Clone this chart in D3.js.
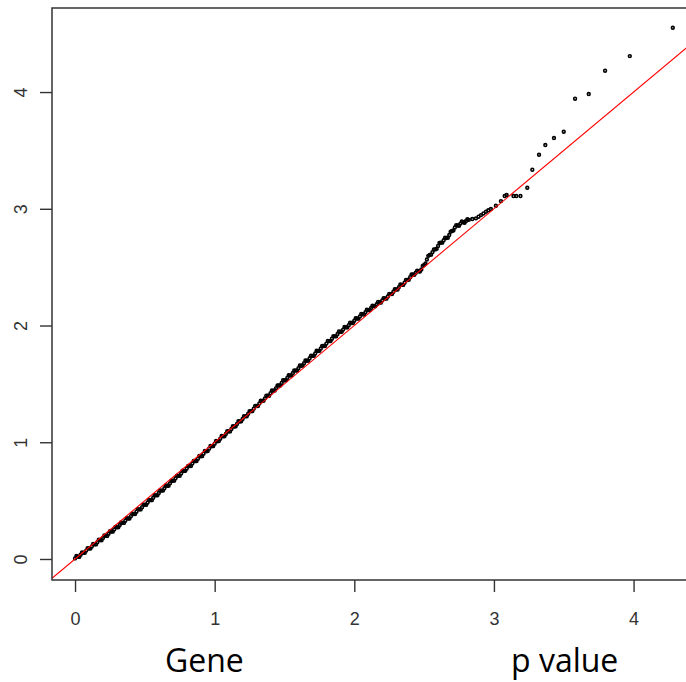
<!DOCTYPE html>
<html>
<head>
<meta charset="utf-8">
<script src="https://cdn.jsdelivr.net/npm/d3@7"></script>
<style>
  html, body { margin: 0; padding: 0; background: #fff; }
</style>
</head>
<body>
<div id="chart"></div>
<script>
var expected = [
    0.00, 0.02, 0.04, 0.06, 0.08, 0.10, 0.12, 0.14, 0.16, 0.18,
    0.20, 0.22, 0.24, 0.26, 0.28, 0.30, 0.32, 0.34, 0.36, 0.38,
    0.40, 0.42, 0.44, 0.46, 0.48, 0.50, 0.52, 0.54, 0.56, 0.58,
    0.60, 0.62, 0.64, 0.66, 0.68, 0.70, 0.72, 0.74, 0.76, 0.78,
    0.80, 0.82, 0.84, 0.86, 0.88, 0.90, 0.92, 0.94, 0.96, 0.98,
    1.00, 1.02, 1.04, 1.06, 1.08, 1.10, 1.12, 1.14, 1.16, 1.18,
    1.20, 1.22, 1.24, 1.26, 1.28, 1.30, 1.32, 1.34, 1.36, 1.38,
    1.40, 1.42, 1.44, 1.46, 1.48, 1.50, 1.52, 1.54, 1.56, 1.58,
    1.60, 1.62, 1.64, 1.66, 1.68, 1.70, 1.72, 1.74, 1.76, 1.78,
    1.80, 1.82, 1.84, 1.86, 1.88, 1.90, 1.92, 1.94, 1.96, 1.98,
    2.00, 2.02, 2.04, 2.06, 2.08, 2.10, 2.12, 2.14, 2.16, 2.18,
    2.20, 2.22, 2.24, 2.26, 2.28, 2.30, 2.32, 2.34, 2.36, 2.38,
    2.40, 2.42, 2.44, 2.46, 2.48, 2.50, 2.52, 2.54, 2.56, 2.58,
    2.60, 2.62, 2.64, 2.66, 2.68, 2.70, 2.72, 2.74, 2.76, 2.78,
    2.80, 2.82, 2.845, 2.871, 2.89, 2.907, 2.925, 2.943, 2.96, 2.978,
    3.014, 3.05, 3.077, 3.091, 3.14, 3.16, 3.19, 3.239, 3.275, 3.323,
    3.368, 3.43, 3.50, 3.581, 3.679, 3.796, 3.973, 4.281
];
var observed = [
    0.005, 0.020, 0.036, 0.054, 0.072, 0.090, 0.107, 0.125, 0.144, 0.162,
    0.180, 0.198, 0.216, 0.235, 0.253, 0.272, 0.291, 0.309, 0.328, 0.347,
    0.367, 0.386, 0.405, 0.425, 0.444, 0.464, 0.484, 0.504, 0.524, 0.545,
    0.565, 0.586, 0.606, 0.627, 0.648, 0.670, 0.691, 0.712, 0.733, 0.754,
    0.775, 0.796, 0.817, 0.838, 0.859, 0.880, 0.902, 0.923, 0.945, 0.966,
    0.988, 1.009, 1.030, 1.051, 1.071, 1.092, 1.114, 1.135, 1.157, 1.178,
    1.200, 1.222, 1.244, 1.266, 1.288, 1.310, 1.332, 1.354, 1.376, 1.398,
    1.420, 1.442, 1.464, 1.486, 1.508, 1.530, 1.551, 1.572, 1.593, 1.614,
    1.635, 1.656, 1.677, 1.698, 1.719, 1.740, 1.761, 1.782, 1.803, 1.824,
    1.845, 1.866, 1.887, 1.907, 1.927, 1.946, 1.965, 1.984, 2.003, 2.022,
    2.041, 2.060, 2.078, 2.096, 2.114, 2.132, 2.150, 2.166, 2.182, 2.198,
    2.214, 2.231, 2.249, 2.269, 2.289, 2.309, 2.329, 2.348, 2.367, 2.390,
    2.414, 2.437, 2.452, 2.464, 2.480, 2.518, 2.565, 2.605, 2.629, 2.652,
    2.682, 2.710, 2.730, 2.750, 2.775, 2.810, 2.840, 2.857, 2.873, 2.885,
    2.895, 2.905, 2.912, 2.918, 2.932, 2.946, 2.960, 2.975, 2.987, 2.998,
    3.026, 3.066, 3.109, 3.118, 3.109, 3.109, 3.109, 3.180, 3.335, 3.463,
    3.546, 3.606, 3.660, 3.943, 3.983, 4.183, 4.308, 4.551
];

// further points of the dense band (it is drawn a few pixels thick)
var bandExpected = [
    0.01, 0.03, 0.05, 0.07, 0.09, 0.11, 0.13, 0.15, 0.17, 0.19,
    0.21, 0.23, 0.25, 0.27, 0.29, 0.31, 0.33, 0.35, 0.37, 0.39,
    0.41, 0.43, 0.45, 0.47, 0.49, 0.51, 0.53, 0.55, 0.57, 0.59,
    0.61, 0.63, 0.65, 0.67, 0.69, 0.71, 0.73, 0.75, 0.77, 0.79,
    0.81, 0.83, 0.85, 0.87, 0.89, 0.91, 0.93, 0.95, 0.97, 0.99,
    1.01, 1.03, 1.05, 1.07, 1.09, 1.11, 1.13, 1.15, 1.17, 1.19,
    1.21, 1.23, 1.25, 1.27, 1.29, 1.31, 1.33, 1.35, 1.37, 1.39,
    1.41, 1.43, 1.45, 1.47, 1.49, 1.51, 1.53, 1.55, 1.57, 1.59,
    1.61, 1.63, 1.65, 1.67, 1.69, 1.71, 1.73, 1.75, 1.77, 1.79,
    1.81, 1.83, 1.85, 1.87, 1.89, 1.91, 1.93, 1.95, 1.97, 1.99,
    2.01, 2.03, 2.05, 2.07, 2.09, 2.11, 2.13, 2.15, 2.17, 2.19,
    2.21, 2.23, 2.25, 2.27, 2.29, 2.31, 2.33, 2.35, 2.37, 2.39,
    2.41, 2.43, 2.45, 2.47, 2.49, 2.51, 2.53, 2.55, 2.57, 2.59,
    2.61, 2.63, 2.65, 2.67, 2.69, 2.71, 2.73, 2.75, 2.77, 2.79,
    2.81
];
var bandObserved = [
    0.025, 0.018, 0.057, 0.053, 0.093, 0.089, 0.128, 0.125, 0.165, 0.161,
    0.201, 0.197, 0.238, 0.234, 0.275, 0.272, 0.312, 0.309, 0.350, 0.347,
    0.389, 0.386, 0.427, 0.425, 0.466, 0.464, 0.506, 0.504, 0.547, 0.545,
    0.588, 0.586, 0.629, 0.628, 0.671, 0.671, 0.714, 0.713, 0.756, 0.755,
    0.798, 0.797, 0.840, 0.839, 0.882, 0.881, 0.925, 0.924, 0.968, 0.967,
    1.011, 1.010, 1.053, 1.051, 1.094, 1.093, 1.137, 1.136, 1.180, 1.179,
    1.223, 1.223, 1.267, 1.267, 1.311, 1.311, 1.355, 1.355, 1.399, 1.399,
    1.443, 1.443, 1.487, 1.487, 1.531, 1.531, 1.574, 1.573, 1.616, 1.615,
    1.658, 1.657, 1.700, 1.699, 1.742, 1.741, 1.784, 1.783, 1.826, 1.825,
    1.868, 1.867, 1.909, 1.907, 1.949, 1.946, 1.987, 1.984, 2.025, 2.022,
    2.063, 2.059, 2.099, 2.095, 2.135, 2.131, 2.170, 2.164, 2.202, 2.196,
    2.235, 2.230, 2.271, 2.269, 2.311, 2.309, 2.351, 2.348, 2.391, 2.392,
    2.438, 2.435, 2.470, 2.462, 2.511, 2.531, 2.597, 2.607, 2.652, 2.657,
    2.708, 2.710, 2.752, 2.752, 2.804, 2.815, 2.860, 2.855, 2.891, 2.880,
    2.910
];

var xTicks = [0, 1, 2, 3, 4];
var yTicks = [0, 1, 2, 3, 4];
var xLim = [-0.165, 4.44];
var yLim = [-0.18, 4.72];
var xLabelLeft = "Gene";
var xLabelRight = "p value";

var width = 686, height = 682;
var box = { left: 52, top: 8, bottom: 580, right: 695 };

var svg = d3.select("#chart")
    .append("svg")
    .attr("width", width)
    .attr("height", height)
    .style("display", "block")
    .style("background", "#fff");

var x = d3.scaleLinear().domain(xLim).range([box.left, box.right]);
var y = d3.scaleLinear().domain(yLim).range([box.bottom, box.top]);

svg.append("clipPath")
    .attr("id", "plotclip")
    .append("rect")
    .attr("x", box.left)
    .attr("y", box.top)
    .attr("width", box.right - box.left)
    .attr("height", box.bottom - box.top);

var points = expected.map(function(e, i) {
    return { x: e, y: observed[i] };
}).concat(bandExpected.map(function(e, i) {
    return { x: e, y: bandObserved[i] };
}));

// points
svg.append("g")
    .attr("clip-path", "url(#plotclip)")
    .selectAll("circle")
    .data(points)
    .enter()
    .append("circle")
    .attr("cx", function(d) { return x(d.x); })
    .attr("cy", function(d) { return y(d.y); })
    .attr("r", 1.4)
    .attr("fill", "none")
    .attr("stroke", "#000")
    .attr("stroke-width", 1.6);

// y = x reference line
svg.append("line")
    .attr("clip-path", "url(#plotclip)")
    .attr("x1", x(xLim[0]))
    .attr("y1", y(xLim[0]))
    .attr("x2", x(xLim[1]))
    .attr("y2", y(xLim[1]))
    .attr("stroke", "#ff0000")
    .attr("stroke-width", 1.1);

// frame
svg.append("rect")
    .attr("x", box.left)
    .attr("y", box.top)
    .attr("width", box.right - box.left)
    .attr("height", box.bottom - box.top)
    .attr("fill", "none")
    .attr("stroke", "#333")
    .attr("stroke-width", 1.5);

var xAxis = svg.append("g")
    .attr("transform", "translate(0," + box.bottom + ")")
    .call(d3.axisBottom(x).tickValues(xTicks).tickSize(12).tickPadding(20)
        .tickFormat(d3.format("d")));

var yAxis = svg.append("g")
    .attr("transform", "translate(" + box.left + ",0)")
    .call(d3.axisLeft(y).tickValues(yTicks).tickSize(12)
        .tickFormat(d3.format("d")));

[xAxis, yAxis].forEach(function(ax) {
    ax.select(".domain").remove();
    ax.selectAll(".tick line")
        .attr("stroke", "#333")
        .attr("stroke-width", 1.4);
    ax.selectAll(".tick text")
        .attr("fill", "#333")
        .attr("font-family", "'Liberation Sans', Arial, sans-serif")
        .attr("font-size", 18);
});

yAxis.selectAll(".tick text")
    .attr("x", null)
    .attr("dy", null)
    .attr("text-anchor", "middle")
    .attr("transform", "translate(-25.5,0) rotate(-90)");

// axis label, split in two words
svg.append("text")
    .attr("x", 165)
    .attr("y", 672)
    .attr("font-family", "'Open Sans', sans-serif")
    .attr("font-size", 32)
    .attr("fill", "#000")
    .text(xLabelLeft);

svg.append("text")
    .attr("x", 511)
    .attr("y", 672)
    .attr("font-family", "'Open Sans', sans-serif")
    .attr("font-size", 32)
    .attr("fill", "#000")
    .text(xLabelRight);
</script>
</body>
</html>
